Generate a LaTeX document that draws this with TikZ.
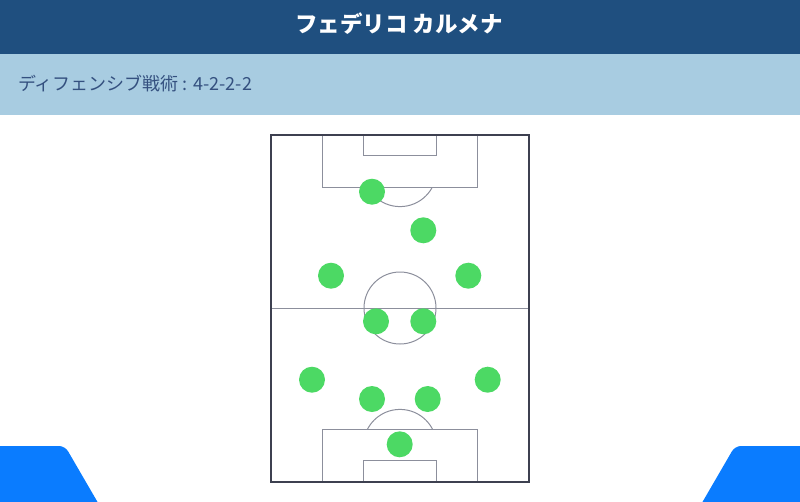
\documentclass[tikz,border=0pt]{standalone}
\usepackage{fontspec}
\newfontfamily\jp{Noto Sans CJK JP}
\definecolor{titlebg}{HTML}{1F4F7F}
\definecolor{subbg}{HTML}{A8CCE1}
\definecolor{subtext}{HTML}{34507F}
\definecolor{outerline}{HTML}{3D4050}
\definecolor{innerline}{HTML}{8C8F9C}
\definecolor{playergreen}{HTML}{4CD964}
\definecolor{cornerblue}{HTML}{0A7CFF}
\tikzset{
  player/.style={circle, fill=playergreen, draw=none, minimum size=26pt, inner sep=0pt},
  outer/.style={draw=outerline, line width=1.5pt},
  inner/.style={draw=innerline, line width=1pt},
  titletext/.style={text=white, font=\jp\bfseries\fontsize{22.5}{26}\selectfont, inner sep=0pt},
  subtitletext/.style={text=subtext, font=\jp\fontsize{18}{21}\selectfont, inner sep=0pt, anchor=west},
}
\begin{document}
\begin{tikzpicture}[x=1pt,y=-1pt]
\useasboundingbox (0,0) rectangle (800,501);
\begin{scope}
\clip (0,0) rectangle (800,501);
% bars
\fill[titlebg] (0,0) rectangle (800,54);
\fill[subbg] (0,54) rectangle (800,115);
\node[titletext] (title) at (399,24) {フェデリコ カルメナ};
\node[subtitletext] (sub) at (18,84) {ディフェンシブ戦術 : 4-2-2-2};
% corner shapes
\fill[cornerblue, rounded corners=6pt] (-20,446) -- (65,446) -- (108,520) -- (-20,520) -- cycle;
\fill[cornerblue, rounded corners=6pt] (820,446) -- (735,446) -- (692,520) -- (820,520) -- cycle;
% pitch
\path[inner] (271,308) -- (529,308);
\path[inner] (400,308) circle[radius=36];
\path[inner] (322.3,135) rectangle (477.3,187.3);
\path[inner] (363.7,135) rectangle (436,155.7);
\path[inner] (322.3,482) rectangle (477.3,429);
\path[inner] (363.7,482) rectangle (436,460.7);
\begin{scope}
\clip (300,187.3) rectangle (500,230);
\path[inner] (400,170) circle[radius=36.6];
\end{scope}
\begin{scope}
\clip (300,395) rectangle (500,429);
\path[inner] (400,446) circle[radius=36.6];
\end{scope}
\path[outer] (271,135) rectangle (529,482);
% players
\node[player] (p1) at (372,191.7) {};
\node[player] (p2) at (423.3,230.3) {};
\node[player] (p3) at (331,275.7) {};
\node[player] (p4) at (468.3,275.7) {};
\node[player] (p5) at (376,321.3) {};
\node[player] (p6) at (423.3,321.3) {};
\node[player] (p7) at (312,379.7) {};
\node[player] (p8) at (487.7,379.7) {};
\node[player] (p9) at (372,399) {};
\node[player] (p10) at (427.7,399) {};
\node[player] (p11) at (399.7,444.3) {};
\end{scope}
\end{tikzpicture}
\end{document}
